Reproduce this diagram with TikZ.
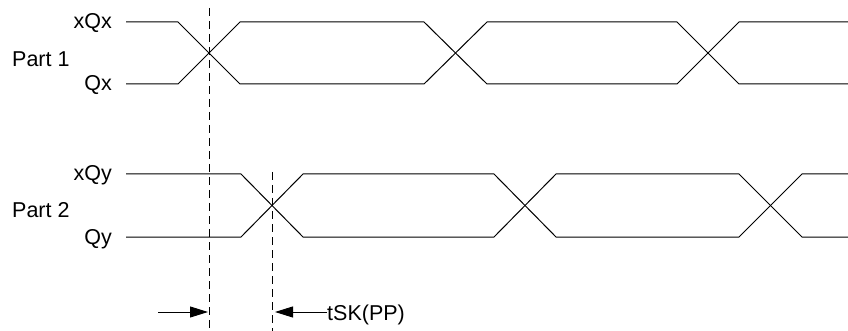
\documentclass[tikz,border=0pt]{standalone}
\usepackage{fontspec}
\setmainfont{Liberation Sans}
\usetikzlibrary{arrows.meta}
\begin{document}
\begin{tikzpicture}[x=1pt,y=-1pt,
  sig/.style={line width=1pt, line join=miter},
  guide/.style={line width=1pt, dash pattern=on 8pt off 5pt},
  lbl/.style={font=\fontsize{21.5}{25}\selectfont, inner sep=0pt},
  skew/.style={line width=1pt, -{Triangle[length=18pt,width=11pt]}}]
\useasboundingbox (0,0) rectangle (848,331);
% labels
\node[lbl, anchor=base east] (lxqx) at (112,29) {xQx};
\node[lbl, anchor=base west] (lp1) at (12,67) {Part 1};
\node[lbl, anchor=base east] (lqx) at (112,91) {Qx};
\node[lbl, anchor=base east] (lxqy) at (112,181) {xQy};
\node[lbl, anchor=base west] (lp2) at (12,218) {Part 2};
\node[lbl, anchor=base east] (lqy) at (112,244) {Qy};
% Part 1 waveforms
\draw[sig] (126,22) -- (178,22) -- (240,84) -- (424,84) -- (487,22) -- (677,22) -- (739,84) -- (848,84);
\draw[sig] (126,84) -- (178,84) -- (240,22) -- (424,22) -- (487,84) -- (677,84) -- (739,22) -- (848,22);
% Part 2 waveforms
\draw[sig] (126,174) -- (241,174) -- (303,237) -- (494,237) -- (556,174) -- (739,174) -- (802,237) -- (848,237);
\draw[sig] (126,237) -- (241,237) -- (303,174) -- (494,174) -- (556,237) -- (739,237) -- (802,174) -- (848,174);
% guides
\coordinate (g1t) at (209,8);
\coordinate (g1b) at (209,331);
\coordinate (g2t) at (272,172);
\coordinate (g2b) at (272,331);
\draw[guide] (g1t) -- (g1b);
\draw[guide] (g2t) -- (g2b);
% skew arrows
\coordinate (a1s) at (158,312);
\coordinate (a1e) at (208,312);
\coordinate (a2e) at (275,312);
\node[lbl, anchor=base west] (tsk) at (327,320) {tSK(PP)};
\draw[skew] (a1s) -- (a1e);
\draw[skew] (tsk.west |- a2e) -- (a2e);
\end{tikzpicture}
\end{document}
